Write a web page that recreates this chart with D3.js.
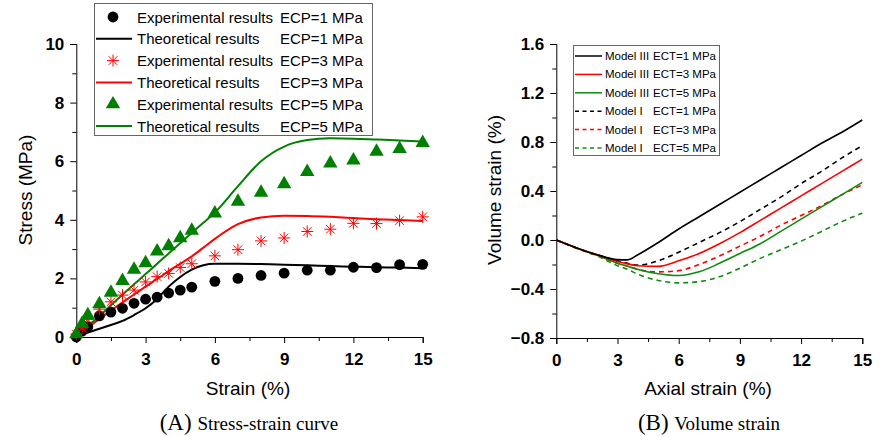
<!DOCTYPE html>
<html>
<head>
<meta charset="utf-8">
<script src="https://cdn.jsdelivr.net/npm/d3@7"></script>
<style>
  body { margin: 0; background: #fff; }
  text { font-family: "Liberation Sans", Arial, sans-serif; }
  .serif { font-family: "Liberation Serif", "Times New Roman", serif; }
</style>
</head>
<body>
<svg id="chart" width="882" height="437"></svg>
<script>
/* data: (A) stress-strain */
const expStrain = [0, 0.25, 0.5, 1, 1.5, 2, 2.5, 3, 3.5, 4, 4.5, 5, 6, 7, 8, 9, 10, 11, 12, 13, 14, 15];
const exp1 = [0, 0.2, 0.35, 0.72, 0.85, 0.98, 1.15, 1.29, 1.36, 1.5, 1.6, 1.7, 1.9, 2.0, 2.1, 2.18, 2.28, 2.28, 2.38, 2.37, 2.47, 2.48];
const exp3 = [0.1, 0.3, 0.6, 0.95, 1.2, 1.43, 1.6, 1.88, 2.06, 2.17, 2.37, 2.5, 2.77, 2.98, 3.28, 3.38, 3.6, 3.68, 3.88, 3.87, 3.97, 4.1];
const exp5 = [0.1, 0.45, 0.75, 1.12, 1.52, 1.92, 2.3, 2.52, 2.92, 3.1, 3.38, 3.63, 4.22, 4.62, 4.93, 5.22, 5.64, 5.93, 6.03, 6.33, 6.42, 6.63];

const theoStrain = [0, 0.5, 1, 1.5, 2, 2.5, 3, 3.5, 4, 4.5, 5, 5.5, 6, 7, 8, 9, 10, 11, 12, 13, 14, 15];
const theo1 = [0, 0.15, 0.28, 0.41, 0.55, 0.75, 0.98, 1.3, 1.72, 2.05, 2.3, 2.45, 2.5, 2.5, 2.49, 2.47, 2.45, 2.42, 2.4, 2.38, 2.37, 2.35];
const theo3 = [0, 0.32, 0.62, 0.9, 1.18, 1.45, 1.72, 1.98, 2.25, 2.5, 2.75, 3.05, 3.35, 3.85, 4.08, 4.14, 4.13, 4.1, 4.06, 4.02, 3.99, 3.96];
const theo5 = [0, 0.37, 0.72, 1.08, 1.45, 1.8, 2.15, 2.5, 2.85, 3.2, 3.55, 3.9, 4.25, 5.15, 6.0, 6.5, 6.72, 6.78, 6.77, 6.74, 6.71, 6.67];

/* data: (B) volume strain */
const volStrain = [0, 1, 2, 3, 3.5, 4, 5, 6, 7, 8, 9, 10, 11, 12, 13, 14, 15];
const m3ect1 = [0, -0.065, -0.12, -0.16, -0.162, -0.12, -0.02, 0.09, 0.19, 0.29, 0.39, 0.49, 0.59, 0.69, 0.79, 0.88, 0.98];
const m3ect3 = [0, -0.065, -0.12, -0.175, -0.195, -0.21, -0.215, -0.17, -0.11, -0.03, 0.06, 0.16, 0.26, 0.36, 0.46, 0.56, 0.66];
const m3ect5 = [0, -0.065, -0.125, -0.19, -0.215, -0.24, -0.275, -0.29, -0.26, -0.19, -0.11, -0.03, 0.07, 0.17, 0.27, 0.37, 0.47];
const m1ect1 = [0, -0.065, -0.12, -0.17, -0.19, -0.205, -0.17, -0.1, -0.02, 0.06, 0.15, 0.25, 0.35, 0.46, 0.56, 0.67, 0.77];
const m1ect3 = [0, -0.065, -0.125, -0.19, -0.215, -0.24, -0.26, -0.25, -0.2, -0.13, -0.05, 0.03, 0.12, 0.2, 0.28, 0.37, 0.45];
const m1ect5 = [0, -0.07, -0.13, -0.21, -0.24, -0.28, -0.33, -0.35, -0.34, -0.3, -0.23, -0.15, -0.08, -0.01, 0.07, 0.15, 0.22];

const xTicks = [0, 3, 6, 9, 12, 15];
const xMinor = [1.5, 4.5, 7.5, 10.5, 13.5];
const stressTicks = [0, 2, 4, 6, 8, 10];
const stressMinor = [1, 3, 5, 7, 9];
const volTicks = [-0.8, -0.4, 0.0, 0.4, 0.8, 1.2, 1.6];
const volMinor = [-0.6, -0.2, 0.2, 0.6, 1.0, 1.4];

const svg = d3.select("#chart");
const RED = "#ff0000", GREEN = "#008000", GREEN2 = "#0f8a0f";

function drawAxes(x, y, xt, xm, yt, ym, yfmt) {
  const [x0] = x.range();
  const [y0] = y.range();
  const gx = svg.append("g")
    .attr("transform", `translate(0,${y0})`)
    .call(d3.axisBottom(x).tickValues(xt).tickSize(6).tickPadding(10).tickFormat(d3.format("d")));
  svg.append("g")
    .attr("transform", `translate(0,${y0})`)
    .call(d3.axisBottom(x).tickValues(xm).tickSize(4).tickFormat(""))
    .select(".domain").remove();
  const gy = svg.append("g")
    .attr("transform", `translate(${x0},0)`)
    .call(d3.axisLeft(y).tickValues(yt).tickSize(6).tickPadding(6).tickFormat(yfmt));
  svg.append("g")
    .attr("transform", `translate(${x0},0)`)
    .call(d3.axisLeft(y).tickValues(ym).tickSize(4).tickFormat(""))
    .select(".domain").remove();
  [gx, gy].forEach(g => g.selectAll("text")
    .attr("font-size", 17).attr("font-weight", "bold")
    .attr("font-family", "Liberation Sans, Arial, sans-serif").attr("fill", "#000"));
  svg.selectAll(".domain, .tick line").attr("stroke", "#000");
}

/* ---------- (A) ---------- */
const xA = d3.scaleLinear().domain([0, 15]).range([76.3, 422.7]);
const yA = d3.scaleLinear().domain([0, 10]).range([337, 44]);
drawAxes(xA, yA, xTicks, xMinor, stressTicks, stressMinor, d3.format("d"));

const lineA = d3.line().x(d => xA(d[0])).y(d => yA(d[1])).curve(d3.curveMonotoneX);
[[theo1, "#000"], [theo3, RED], [theo5, GREEN]].forEach(([vals, c]) => {
  svg.append("path")
    .datum(theoStrain.map((s, i) => [s, vals[i]]))
    .attr("d", lineA).attr("fill", "none").attr("stroke", c).attr("stroke-width", 2);
});

const star = r => {
  const a = r * Math.SQRT1_2;
  return `M0,${-r}V${r}M${-r},0H${r}M${-a},${-a}L${a},${a}M${-a},${a}L${a},${-a}`;
};
const tri = d3.symbol().type(d3.symbolTriangle).size(90)();

svg.append("g").selectAll("circle")
  .data(expStrain.map((s, i) => [s, exp1[i]])).join("circle")
  .attr("cx", d => xA(d[0])).attr("cy", d => yA(d[1])).attr("r", 5.4).attr("fill", "#000");
svg.append("g").selectAll("path")
  .data(expStrain.map((s, i) => [s, exp3[i]])).join("path")
  .attr("transform", d => `translate(${xA(d[0])},${yA(d[1])})`)
  .attr("d", star(6)).attr("stroke", RED).attr("stroke-width", 1).attr("fill", "none");
svg.append("g").selectAll("path")
  .data(expStrain.map((s, i) => [s, exp5[i]])).join("path")
  .attr("transform", d => `translate(${xA(d[0])},${yA(d[1])})`)
  .attr("d", tri).attr("fill", GREEN);

// legend A
const legA = svg.append("g");
legA.append("rect").attr("x", 94.5).attr("y", 3.5).attr("width", 278).attr("height", 132)
  .attr("fill", "#fff").attr("stroke", "#666").attr("stroke-width", 1);
const legAItems = [
  ["Experimental results", "ECP=1 MPa", "circle", "#000"],
  ["Theoretical results", "ECP=1 MPa", "line", "#000"],
  ["Experimental results", "ECP=3 MPa", "star", RED],
  ["Theoretical results", "ECP=3 MPa", "line", RED],
  ["Experimental results", "ECP=5 MPa", "tri", GREEN],
  ["Theoretical results", "ECP=5 MPa", "line", GREEN]
];
legAItems.forEach((it, i) => {
  const cy = 17 + i * 21.8;
  if (it[2] === "circle") legA.append("circle").attr("cx", 113).attr("cy", cy).attr("r", 5.4).attr("fill", it[3]);
  if (it[2] === "line") legA.append("line").attr("x1", 96).attr("x2", 132).attr("y1", cy).attr("y2", cy).attr("stroke", it[3]).attr("stroke-width", 2);
  if (it[2] === "star") legA.append("path").attr("transform", `translate(113,${cy})`).attr("d", star(6)).attr("stroke", it[3]).attr("fill", "none");
  if (it[2] === "tri") legA.append("path").attr("transform", `translate(113,${cy})`).attr("d", tri).attr("fill", it[3]);
  legA.append("text").attr("x", 137).attr("y", cy + 5.5).attr("font-size", 15).text(it[0]);
  legA.append("text").attr("x", 280).attr("y", cy + 5.5).attr("font-size", 15).text(it[1]);
});

svg.append("text").attr("x", 248).attr("y", 395).attr("text-anchor", "middle").attr("font-size", 19).text("Strain (%)");
svg.append("text").attr("transform", "translate(32,190) rotate(-90)").attr("text-anchor", "middle").attr("font-size", 19).text("Stress (MPa)");
const capA = svg.append("text").attr("class", "serif").attr("x", 249).attr("y", 430).attr("text-anchor", "middle");
capA.append("tspan").attr("font-size", 23).text("(A) ");
capA.append("tspan").attr("font-size", 19).text("Stress-strain curve");

/* ---------- (B) ---------- */
const xB = d3.scaleLinear().domain([0, 15]).range([556.3, 862.3]);
const yB = d3.scaleLinear().domain([-0.8, 1.6]).range([338, 44]);
drawAxes(xB, yB, xTicks, xMinor, volTicks, volMinor, d3.format(".1f"));

const lineB = d3.line().x(d => xB(d[0])).y(d => yB(d[1])).curve(d3.curveMonotoneX);
const seriesB = [
  [m1ect5, GREEN2, true], [m1ect3, RED, true], [m1ect1, "#000", true],
  [m3ect5, GREEN2, false], [m3ect3, RED, false], [m3ect1, "#000", false]
];
seriesB.forEach(([vals, c, dash]) => {
  svg.append("path")
    .datum(volStrain.map((s, i) => [s, vals[i]]))
    .attr("d", lineB).attr("fill", "none").attr("stroke", c)
    .attr("stroke-width", 1.6).attr("stroke-dasharray", dash ? "5,4" : null);
});

const legB = svg.append("g");
legB.append("rect").attr("x", 573.5).attr("y", 45.5).attr("width", 146).attr("height", 110)
  .attr("fill", "#fff").attr("stroke", "#666").attr("stroke-width", 1);
const legBItems = [
  ["Model III", "ECT=1 MPa", "#000", false],
  ["Model III", "ECT=3 MPa", RED, false],
  ["Model III", "ECT=5 MPa", GREEN2, false],
  ["Model I", "ECT=1 MPa", "#000", true],
  ["Model I", "ECT=3 MPa", RED, true],
  ["Model I", "ECT=5 MPa", GREEN2, true]
];
legBItems.forEach((it, i) => {
  const cy = 56 + i * 18.4;
  legB.append("line").attr("x1", 575).attr("x2", 602).attr("y1", cy).attr("y2", cy)
    .attr("stroke", it[2]).attr("stroke-width", 1.5).attr("stroke-dasharray", it[3] ? "4,3.5" : null);
  legB.append("text").attr("x", 605).attr("y", cy + 4).attr("font-size", 11.5).text(it[0]);
  legB.append("text").attr("x", 653).attr("y", cy + 4).attr("font-size", 11.5).text(it[1]);
});

svg.append("text").attr("x", 708).attr("y", 395).attr("text-anchor", "middle").attr("font-size", 19).text("Axial strain (%)");
svg.append("text").attr("transform", "translate(501,190) rotate(-90)").attr("text-anchor", "middle").attr("font-size", 19).text("Volume strain (%)");
const capB = svg.append("text").attr("class", "serif").attr("x", 709).attr("y", 430).attr("text-anchor", "middle");
capB.append("tspan").attr("font-size", 23).text("(B) ");
capB.append("tspan").attr("font-size", 19).text("Volume strain");
</script>
</body>
</html>
